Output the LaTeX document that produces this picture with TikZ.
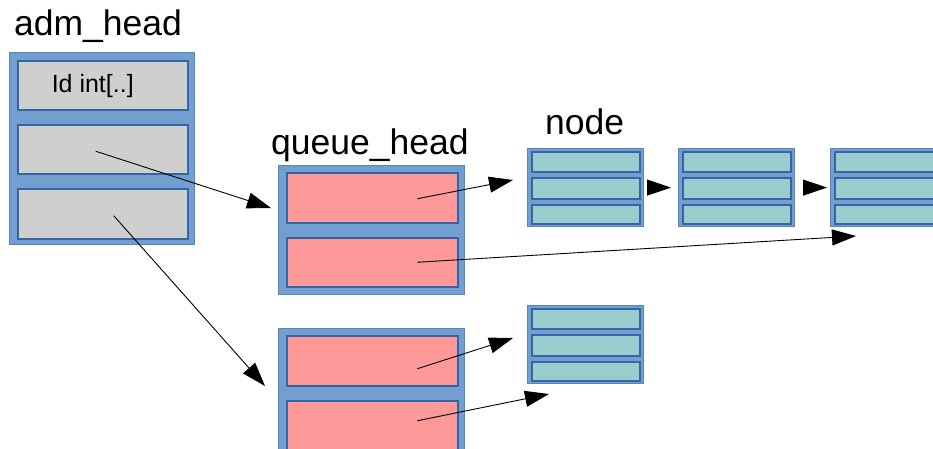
\documentclass[tikz,border=0pt]{standalone}
\usepackage{fontspec}
\setmainfont{Liberation Sans}
\usetikzlibrary{arrows.meta}
\definecolor{boxfill}{HTML}{729FCF}
\definecolor{boxedge}{HTML}{3465A4}
\definecolor{admcell}{HTML}{CFCFCF}
\definecolor{qcell}{HTML}{FF9999}
\definecolor{ncell}{HTML}{99CCCC}
\tikzset{
  outer/.style={draw=boxedge!80, fill=boxfill, line width=1.2pt, anchor=north west, inner sep=0pt},
  cell/.style={draw=boxedge, line width=1.5pt, anchor=north west, inner sep=0pt},
  link/.style={-{Triangle[length=24pt,width=16pt]}, line width=0.9pt},
  title/.style={anchor=base west, inner sep=0pt, font=\fontsize{35.5}{38}\selectfont}
}
\newcommand{\listnode}[2]{%
  \node[outer, minimum width=116pt, minimum height=78pt] (#1) at #2 {};
  \node[cell, fill=ncell, minimum width=108pt, minimum height=20pt] (#1a) at ([xshift=4pt,yshift=-3pt]#1.north west) {};
  \node[cell, fill=ncell, minimum width=108pt, minimum height=21pt] (#1b) at ([xshift=4pt,yshift=-29pt]#1.north west) {};
  \node[cell, fill=ncell, minimum width=108pt, minimum height=19pt] (#1c) at ([xshift=4pt,yshift=-56pt]#1.north west) {};
}
\begin{document}
\begin{tikzpicture}[x=1pt, y=-1pt]
  \clip (0,0) rectangle (933,448);
  % titles
  \node[title] (admtitle) at (14,35) {adm\_head};
  \node[title] (qtitle) at (271,154) {queue\_head};
  \node[title] (ntitle) at (545,134) {node};
  % adm_head
  \node[outer, minimum width=185pt, minimum height=192pt] (adm) at (9,52) {};
  \node[cell, fill=admcell, minimum width=170pt, minimum height=49pt,
        label={[xshift=-10pt, yshift=-1pt, font=\fontsize{25}{27}\selectfont]center:Id int[..]}] (adm1) at (17,60) {};
  \node[cell, fill=admcell, minimum width=170pt, minimum height=49pt] (adm2) at (17,124) {};
  \node[cell, fill=admcell, minimum width=170pt, minimum height=50pt] (adm3) at (17,188) {};
  % queue heads
  \node[outer, minimum width=186pt, minimum height=129pt] (qa) at (278,165) {};
  \node[cell, fill=qcell, minimum width=171pt, minimum height=50pt] (qa1) at (286,172) {};
  \node[cell, fill=qcell, minimum width=171pt, minimum height=49pt] (qa2) at (286,237) {};
  \node[outer, minimum width=186pt, minimum height=140pt] (qb) at (278,328) {};
  \node[cell, fill=qcell, minimum width=171pt, minimum height=50pt] (qb1) at (286,335) {};
  \node[cell, fill=qcell, minimum width=171pt, minimum height=50pt] (qb2) at (286,400) {};
  % nodes
  \listnode{na}{(527,148)}
  \listnode{nb}{(678,148)}
  \listnode{nc}{(830,148)}
  \listnode{nd}{(527,305)}
  % arrow tips
  \coordinate (tqa) at (271,208);
  \coordinate (tqb) at (265,386);
  \coordinate (tna) at (513,180);
  \coordinate (tnc) at (856,236);
  \coordinate (tnd) at (513,338);
  \coordinate (tnd2) at (549,394);
  % pointers
  \draw[link] ([xshift=-7pt,yshift=-2pt]adm2.center) -- (tqa);
  \draw[link] ([xshift=11pt,yshift=-2pt]adm3.center) -- (tqb);
  \draw[link] ([xshift=45pt,yshift=-1pt]qa1.center) -- (tna);
  \draw[link] ([xshift=45pt,yshift=0pt]qa2.center) -- (tnc);
  \draw[link] ([xshift=45pt,yshift=-8pt]qb1.center) -- (tnd);
  \draw[link] ([xshift=45pt,yshift=5pt]qb2.center) -- (tnd2);
  \draw[link, shorten <=4pt, shorten >=7pt] (na.east) -- (nb.west);
  \draw[link, shorten <=9pt, shorten >=3pt] (nb.east) -- (nc.west);
\end{tikzpicture}
\end{document}
